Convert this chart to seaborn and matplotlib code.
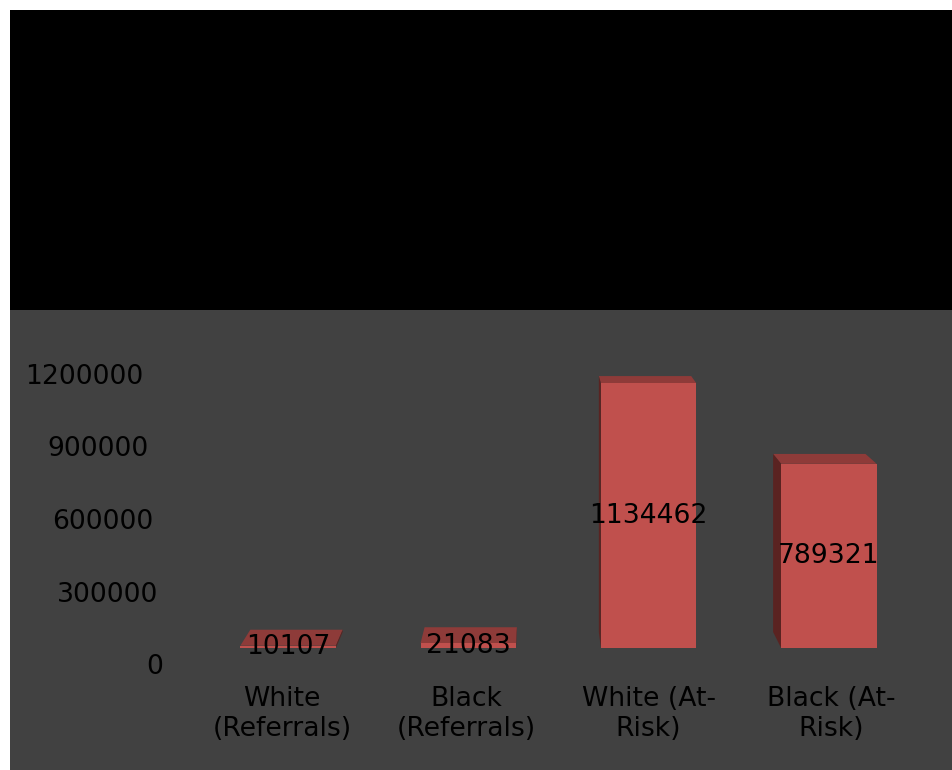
import numpy as np
import pandas as pd
import matplotlib
matplotlib.use("Agg")
import matplotlib.pyplot as plt
import seaborn as sns
from matplotlib.patches import Rectangle, Polygon
from matplotlib.transforms import ScaledTranslation

# ---- data ----
categories = ["White\n(Referrals)", "Black\n(Referrals)", "White (At-\nRisk)", "Black (At-\nRisk)"]
values = [10107, 21083, 1134462, 789321]
ytick_values = [0, 300000, 600000, 900000, 1200000]
ytick_labels = ["0", "300000", "600000", "900000", "1200000"]

# ---- style ----
BAR = "#C0504D"
TOP = "#8E3B39"
SIDE = "#5A2321"
BG = "#414141"
FS = 19.2

sns.set_theme(style="white")
plt.rcParams["font.family"] = ["DejaVu Sans"]

W, H = 953, 770
fig = plt.figure(figsize=(W / 100, H / 100), dpi=100, facecolor="white")
fig.add_artist(Rectangle((10 / W, 0), 1 - 10 / W, 460 / H, transform=fig.transFigure,
                         facecolor=BG, edgecolor="none", zorder=-10))
fig.add_artist(Rectangle((10 / W, 460 / H), 1 - 10 / W, 300 / H, transform=fig.transFigure,
                         facecolor="black", edgecolor="none", zorder=-10))

ax_left, ax_right = 198, 919
px_per_300k = 70.0
base_px, top_px = 648, 648 - 1300000 / 300000 * px_per_300k
ax = fig.add_axes([ax_left / W, (H - base_px) / H, (ax_right - ax_left) / W, (base_px - top_px) / H])
ax.patch.set_visible(False)

df = pd.DataFrame({"category": categories, "value": values})
sns.barplot(data=df, x="category", y="value", color=BAR, saturation=1, width=0.53,
            linewidth=0, errorbar=None, ax=ax, zorder=3)

ax.set_xlim(-0.5, 3.5)
ax.set_ylim(0, 1300000)
for s in ax.spines.values():
    s.set_visible(False)
ax.set_xlabel("")
ax.set_ylabel("")
ax.grid(False)

ax.set_xticks(range(len(categories)))
ax.set_xticklabels(categories, linespacing=1.22, ha="center")
ax.set_yticks(ytick_values)
ax.set_yticklabels(ytick_labels)
ax.tick_params(axis="both", length=0, labelsize=FS, labelcolor="black")
ax.tick_params(axis="x", pad=27)
ax.tick_params(axis="y", pad=25)

for lbl, v in zip(ax.get_yticklabels(), ytick_values):
    lbl.set_transform(lbl.get_transform() +
                      ScaledTranslation(-20 * v / 1200000 / 100,
                                        -(16 - 10 * v / 1200000) / 100, fig.dpi_scale_trans))

for lbl, dx in zip(ax.get_xticklabels(), [-6, -2, 0, 2]):
    lbl.set_transform(lbl.get_transform() + ScaledTranslation(dx / 100, 0, fig.dpi_scale_trans))

ax.bar_label(ax.containers[0], labels=[str(v) for v in values], label_type="center",
             fontsize=FS, color="black", zorder=6)

# ---- pseudo 3D faces derived from bar geometry ----
vx, vy = 540, H - 166
k = 0.0332
inv = ax.transData.inverted()


def back(px, py):
    return (px + (vx - px) * k, py + (vy - py) * k)


for p in list(ax.containers[0]):
    x0, y0 = p.get_x(), p.get_y()
    w, h = p.get_width(), p.get_height()
    X0, Yb = ax.transData.transform((x0, y0))
    X1, Yt = ax.transData.transform((x0 + w, y0 + h))
    top = [(X0, Yt), (X1, Yt), back(X1, Yt), back(X0, Yt)]
    ax.add_patch(Polygon(inv.transform(top), closed=True, facecolor=TOP,
                         edgecolor="none", zorder=2, clip_on=False))
    if back(X0, Yt)[0] < X0:
        side = [(X0, Yt), (X0, Yb), back(X0, Yb), back(X0, Yt)]
        ax.add_patch(Polygon(inv.transform(side), closed=True, facecolor=SIDE,
                             edgecolor="none", zorder=2, clip_on=False))
    if back(X1, Yt)[0] > X1:
        side = [(X1, Yt), (X1, Yb), back(X1, Yb), back(X1, Yt)]
        ax.add_patch(Polygon(inv.transform(side), closed=True, facecolor=SIDE,
                             edgecolor="none", zorder=2, clip_on=False))

fig.savefig("out.png", dpi=100, facecolor="white")
